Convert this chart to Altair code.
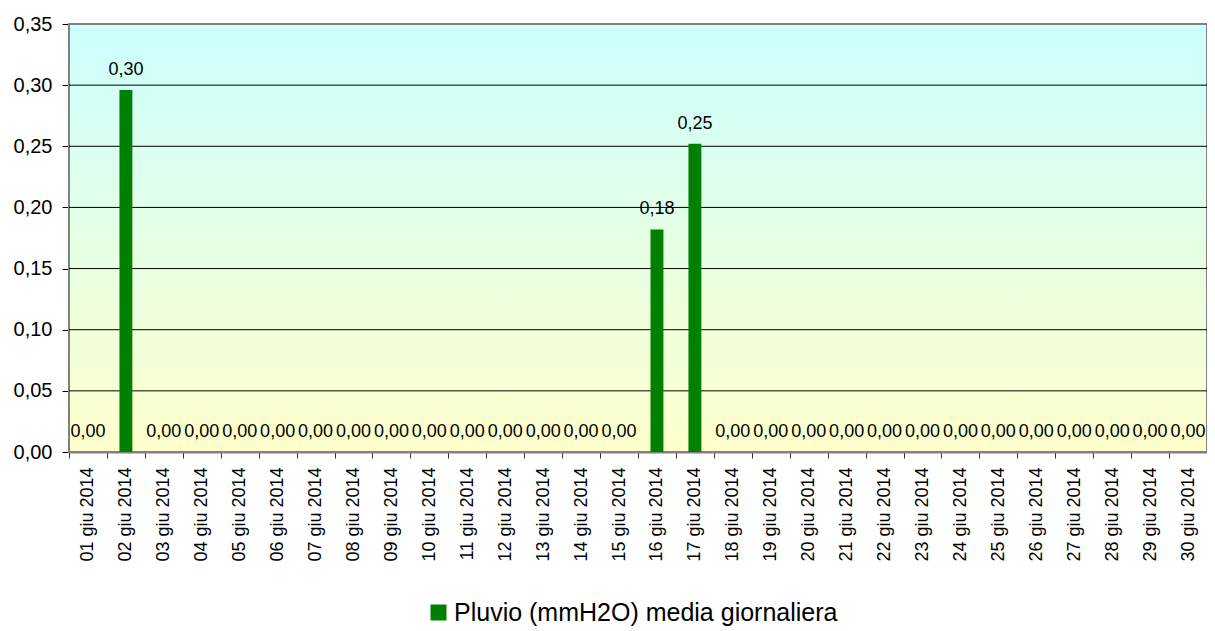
import altair as alt
import pandas as pd

days = [f"{d:02d} giu 2014" for d in range(1, 31)]
values = [0.0, 0.296, 0.0, 0.0, 0.0, 0.0, 0.0, 0.0, 0.0, 0.0,
          0.0, 0.0, 0.0, 0.0, 0.0, 0.182, 0.252, 0.0, 0.0, 0.0,
          0.0, 0.0, 0.0, 0.0, 0.0, 0.0, 0.0, 0.0, 0.0, 0.0]
series_name = "Pluvio (mmH2O) media giornaliera"
y_ticks = [0.0, 0.05, 0.10, 0.15, 0.20, 0.25, 0.30, 0.35]
grid_values = [0.05, 0.10, 0.15, 0.20, 0.25, 0.30]

W, H = 1138, 428
FONT = "Liberation Sans"

df = pd.DataFrame({"day": days, "v": values, "serie": series_name})
grid_df = pd.DataFrame({"v": grid_values})

yscale = alt.Scale(domain=[0, 0.35], nice=False, zero=True)
yaxis = alt.Axis(
    values=y_ticks,
    labelExpr="replace(format(datum.value, '.2f'), '.', ',')",
    labelFontSize=20, labelColor="black", labelFont=FONT,
    tickSize=7, tickColor="black", labelPadding=10,
    domainColor="#808080", domainWidth=2, grid=False, title=None,
)
xscale = alt.Scale(paddingInner=0, paddingOuter=0)
xaxis = alt.Axis(
    labelAngle=-90, labelFontSize=18, labelFont=FONT, labelColor="black",
    tickBand="extent", tickSize=6, tickColor="#333333", labelPadding=9,
    domainColor="#808080", domainWidth=2, title=None,
)

background = alt.Chart(pd.DataFrame({"a": [0]})).mark_rect(
    fill={
        "gradient": "linear", "x1": 0, "y1": 0, "x2": 0, "y2": 1,
        "stops": [
            {"offset": 0, "color": "#CCFFFF"},
            {"offset": 1, "color": "#FFFFCC"},
        ],
    },
    stroke="#808080", strokeWidth=2,
).encode(
    x=alt.value(0), x2=alt.value(W), y=alt.value(0), y2=alt.value(H)
)

grid = alt.Chart(grid_df).mark_rule(color="black", strokeWidth=1).encode(
    y=alt.Y("v:Q", scale=yscale, axis=yaxis),
    x=alt.value(0), x2=alt.value(W),
)

bars = alt.Chart(df).mark_bar(width={"band": 0.34}).encode(
    x=alt.X("day:N", sort=None, scale=xscale, axis=xaxis),
    y=alt.Y("v:Q", scale=yscale, axis=yaxis),
    color=alt.Color(
        "serie:N",
        scale=alt.Scale(range=["#008000"]),
        legend=alt.Legend(
            orient="none", legendX=357, legendY=576, title=None,
            symbolType="square", symbolSize=256, symbolStrokeWidth=0,
            labelFontSize=25, labelFont=FONT, labelColor="black",
            labelLimit=0, labelOffset=3, symbolOpacity=1,
        ),
    ),
)

labels = alt.Chart(df).transform_calculate(
    lab="replace(format(datum.v, '.2f'), '.', ',')"
).mark_text(
    fontSize=18, font=FONT, color="black", baseline="alphabetic", dy=-15
).encode(
    x=alt.X("day:N", sort=None, scale=xscale, axis=xaxis),
    y=alt.Y("v:Q", scale=yscale, axis=yaxis),
    text="lab:N",
)

chart = alt.layer(background, grid, bars, labels).properties(
    width=W, height=H,
    autosize=alt.AutoSizeParams(type="none"),
    padding={"left": 61, "top": 16, "right": 0, "bottom": 177},
).configure_view(stroke=None).configure(background="white")

chart.save("out.html", embed_options={"renderer": "svg", "actions": False})
